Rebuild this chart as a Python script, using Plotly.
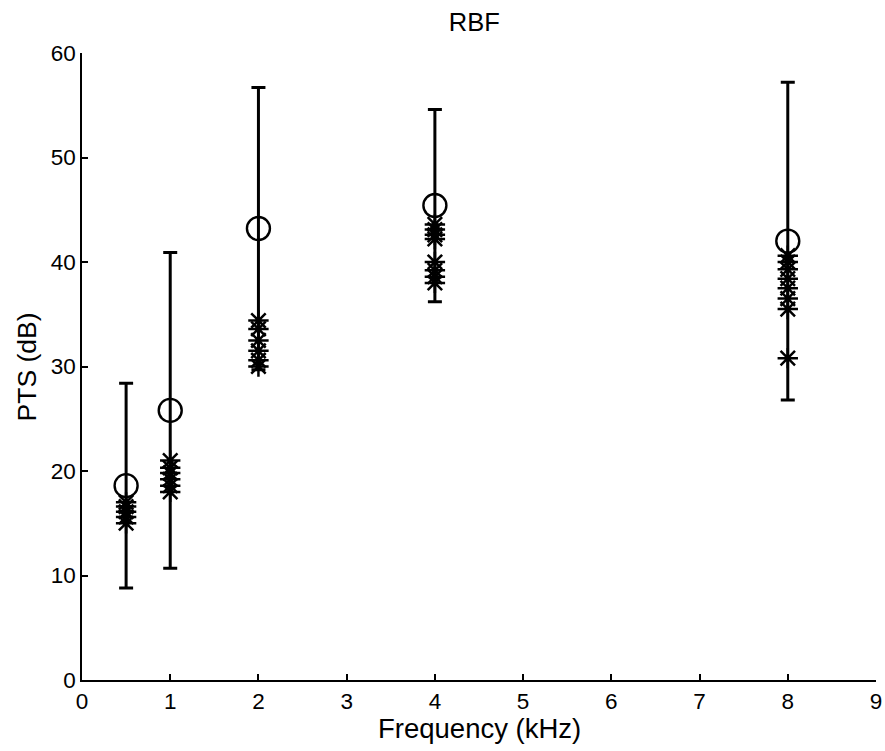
import plotly.graph_objects as go

freqs = [0.5, 1, 2, 4, 8]
means = [18.6, 25.8, 43.2, 45.4, 42.0]
sds = [9.8, 15.1, 13.5, 9.2, 15.2]

ind_x = ([0.5]*5 + [1]*6 + [2]*6 + [4]*8 + [8]*8)
ind_y = ([15.0, 15.6, 16.1, 16.6, 17.0] +
         [18.0, 18.6, 19.2, 19.8, 20.3, 21.0] +
         [30.0, 30.6, 31.5, 32.5, 33.6, 34.4] +
         [42.2, 42.6, 43.1, 43.6, 38.0, 38.6, 39.2, 40.0] +
         [40.6, 40.0, 39.3, 38.4, 37.5, 36.5, 35.5, 30.8])

FONT = "Liberation Sans, Arial, Helvetica, sans-serif"

fig = go.Figure()
fig.add_trace(go.Scatter(
    x=ind_x, y=ind_y, mode="markers",
    marker=dict(symbol="asterisk-open", size=17, color="black",
                line=dict(width=2.5, color="black")),
    showlegend=False))
fig.add_trace(go.Scatter(
    x=freqs, y=means, mode="markers",
    marker=dict(symbol="circle-open", size=23, color="black",
                line=dict(width=2.4, color="black")),
    error_y=dict(type="data", array=sds, visible=True, color="black",
                 thickness=3, width=7),
    showlegend=False))

fig.update_layout(
    width=885, height=751,
    margin=dict(l=82, r=9, t=53, b=71, autoexpand=False),
    paper_bgcolor="white", plot_bgcolor="white",
    font=dict(family=FONT, size=22.5, color="black"),
    title=dict(text="RBF", x=0.536, xanchor="center", y=0.971, yanchor="middle",
               font=dict(size=25.5)),
    annotations=[
        dict(text="Frequency (kHz)", xref="paper", yref="paper", x=0.5, y=-0.0766,
             xanchor="center", yanchor="middle", showarrow=False,
             font=dict(size=27.5)),
        dict(text="PTS (dB)", xref="paper", yref="paper", x=-0.0693, y=0.5,
             xanchor="center", yanchor="middle", showarrow=False, textangle=-90,
             font=dict(size=26.5)),
    ],
)
fig.update_xaxes(range=[0, 9], tickvals=list(range(10)), showgrid=False,
                 zeroline=False, showline=True, linecolor="black", linewidth=1.5,
                 ticks="inside", ticklen=6, tickcolor="black", tickwidth=1.5,
                 tickfont=dict(size=22.5), automargin=False)
fig.update_yaxes(range=[0, 60], tickvals=[0, 10, 20, 30, 40, 50, 60], showgrid=False,
                 zeroline=False, showline=True, linecolor="black", linewidth=1.5,
                 ticks="inside", ticklen=6, tickcolor="black", tickwidth=1.5,
                 tickfont=dict(size=22.5), automargin=False)

fig.write_html("out.html", config={"displayModeBar": False},
               post_script="document.body.style.margin='0';document.body.style.overflow='hidden';")
